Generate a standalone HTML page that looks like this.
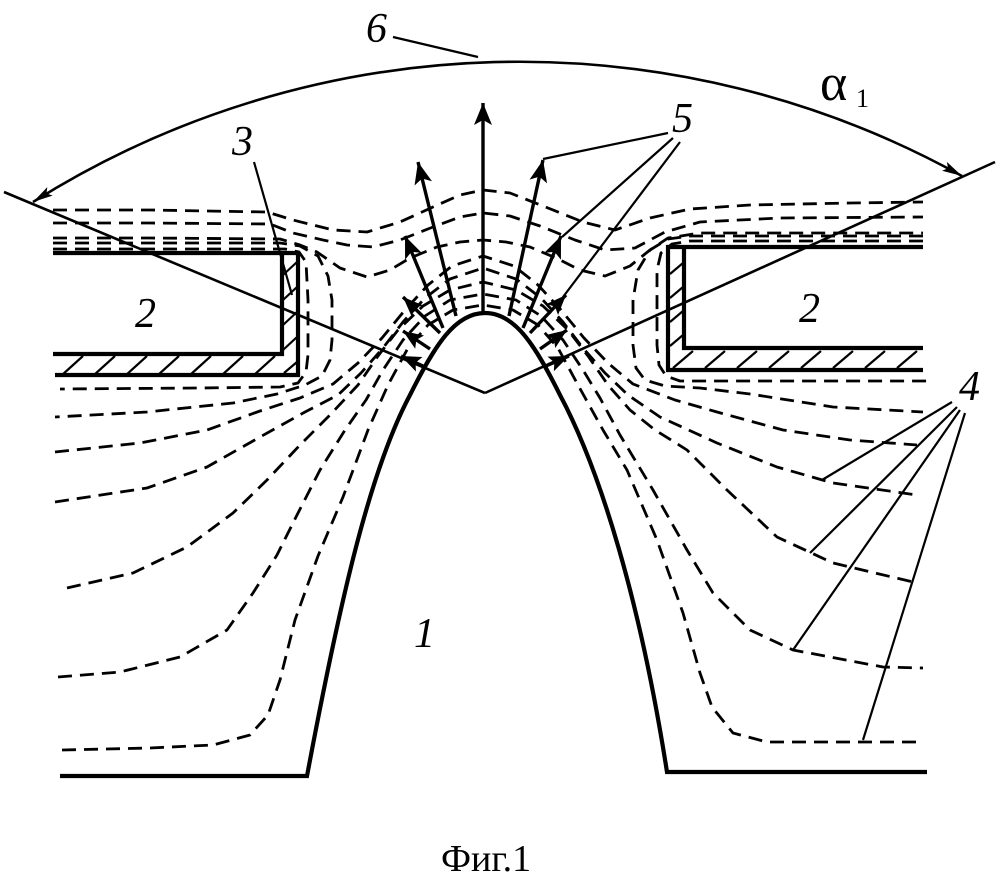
<!DOCTYPE html>
<html>
<head>
<meta charset="utf-8">
<style>
html,body{margin:0;padding:0;background:#fff;}
svg{display:block;}
.d{fill:none;stroke:#000;stroke-width:2.8;stroke-dasharray:14 8;stroke-linejoin:round;}
.s{fill:none;stroke:#000;stroke-linecap:butt;}
.lbl{font-family:"Liberation Serif",serif;font-style:italic;font-size:42px;fill:#000;}
</style>
</head>
<body>
<svg width="1000" height="878" viewBox="0 0 1000 878" xmlns="http://www.w3.org/2000/svg">
<defs>
  <marker id="ah" markerUnits="userSpaceOnUse" markerWidth="24" markerHeight="20" refX="22" refY="9" orient="auto">
    <path d="M0,0 L22,9 L0,18 L5,9 Z" fill="#000"/>
  </marker>
  <marker id="ahs" markerUnits="userSpaceOnUse" markerWidth="22" markerHeight="18" refX="20" refY="8" orient="auto">
    <path d="M0,0 L20,8 L0,16 L4,8 Z" fill="#000"/>
  </marker>
  <marker id="aa" markerUnits="userSpaceOnUse" markerWidth="22" markerHeight="12" refX="20" refY="5" orient="auto-start-reverse">
    <path d="M0,0 L20,5 L0,10 L4,5 Z" fill="#000"/>
  </marker>
</defs>

<!-- arc 6 -->
<path class="s" d="M33,202 A914,914 0 0 1 962,176" stroke-width="2.6" marker-start="url(#aa)" marker-end="url(#aa)"/>
<line class="s" x1="393" y1="37" x2="478" y2="57" stroke-width="2.2"/>

<!-- V angle lines -->
<line class="s" x1="4" y1="192" x2="485" y2="393" stroke-width="2.6"/>
<line class="s" x1="995" y1="162" x2="485" y2="393" stroke-width="2.6"/>

<!-- dashed field lines -->
<polyline class="d" points="53,210 150,210 267,212 293,220 333,230 367,232 400,222 433,207 460,195 483,190 510,193 543,206 583,222 615,230 650,218 690,209 750,205 850,203 923,202"/>
<polyline class="d" points="53,223 150,223 270,224 293,233 323,240 347,245 373,247 400,240 433,227 460,217 483,213 510,216 540,226 575,240 605,250 635,248 665,232 700,222 780,218 923,217"/>
<polyline class="d" points="53,238 150,238 280,239 300,245 317,252 340,268 367,277 390,270 410,258 437,247 460,242 483,240 506,242 530,247 556,258 580,270 605,276 630,266 650,250 668,238 700,233 800,233 923,233"/>
<polyline class="d" points="53,243 280,243 300,246 318,256 328,276 332,300 332,340 330,360 322,376 305,385 277,394 233,403 147,412 55,417"/>
<polyline class="d" points="53,249 285,249 299,252 306,262 308,300 308,355 306,372 298,383 280,387 200,388 60,389"/>
<polyline class="d" points="923,241 690,241 672,244 661,253 657,270 657,345 659,365 666,376 680,381 750,381 927,381"/>
<polyline class="d" points="923,236 690,236 668,239 650,250 638,270 633,300 633,345 636,368 645,380 665,386 700,388 750,394 833,407 923,412"/>
<polyline class="d" points="55,452 140,443 207,430 260,411 300,398 333,384 358,363 382,338 405,310 428,285 452,266 483,256 514,266 538,285 561,310 584,338 608,363 633,384 675,400 717,412 783,430 850,440 917,445"/>
<polyline class="d" points="55,502 147,488 207,467 260,437 305,412 338,395 361,373 383,348 403,322 425,298 450,279 483,268 516,279 541,298 563,322 583,348 605,373 628,395 660,417 717,443 777,467 833,483 917,495"/>
<polyline class="d" points="67,588 133,573 187,547 233,513 267,480 300,445 330,415 358,385 378,356 398,330 423,306 450,290 483,282 516,290 543,306 568,330 588,356 608,385 630,410 655,430 687,450 727,490 777,537 833,563 913,582"/>
<polyline class="d" points="58,677 120,672 180,657 227,630 253,593 277,555 297,515 320,470 345,430 366,400 383,370 403,340 425,316 450,300 483,294 516,300 541,316 563,340 583,370 600,398 620,435 653,490 687,550 713,593 750,630 793,650 883,667 923,668"/>
<polyline class="d" points="62,750 150,748 213,745 250,735 268,715 280,680 295,620 318,556 343,497 368,430 388,385 408,348 428,325 453,310 483,305 513,310 538,325 558,348 578,385 603,430 627,470 657,540 683,613 700,673 712,707 733,733 767,742 923,742"/>

<!-- body 1 -->
<path class="s" d="M60,776 L307,776 C340,600 370,470 410,395 C435,345 455,313 485,313 C515,313 535,345 560,395 C600,470 640,600 667,772 L927,772" stroke-width="4.2" stroke-linejoin="miter"/>

<!-- left block 2 -->
<g stroke="#000" fill="none">
  <polyline points="53,253 298,253 298,376" stroke-width="4.2"/>
  <polyline points="53,354 282,354 282,253" stroke-width="4.2"/>
  <line x1="55" y1="375" x2="300" y2="375" stroke-width="4.2"/>
  <g stroke-width="2.2">
    <line x1="62" y1="375" x2="83" y2="356"/>
    <line x1="94" y1="375" x2="115" y2="356"/>
    <line x1="126" y1="375" x2="147" y2="356"/>
    <line x1="158" y1="375" x2="179" y2="356"/>
    <line x1="190" y1="375" x2="211" y2="356"/>
    <line x1="222" y1="375" x2="243" y2="356"/>
    <line x1="254" y1="375" x2="275" y2="356"/>
    <line x1="284" y1="373" x2="297" y2="362"/>
    <line x1="283" y1="350" x2="297" y2="337"/>
    <line x1="283" y1="325" x2="297" y2="312"/>
    <line x1="283" y1="300" x2="297" y2="287"/>
    <line x1="283" y1="275" x2="297" y2="262"/>
  </g>
</g>

<!-- right block 2 -->
<g stroke="#000" fill="none">
  <polyline points="923,247 668,247 668,371" stroke-width="4.2"/>
  <polyline points="923,348 684,348 684,247" stroke-width="4.2"/>
  <line x1="666" y1="370" x2="923" y2="370" stroke-width="4.2"/>
  <g stroke-width="2.2">
    <line x1="673" y1="368" x2="693" y2="351"/>
    <line x1="705" y1="368" x2="725" y2="351"/>
    <line x1="737" y1="368" x2="757" y2="351"/>
    <line x1="769" y1="368" x2="789" y2="351"/>
    <line x1="801" y1="368" x2="821" y2="351"/>
    <line x1="833" y1="368" x2="853" y2="351"/>
    <line x1="865" y1="368" x2="885" y2="351"/>
    <line x1="897" y1="368" x2="917" y2="351"/>
    <line x1="670" y1="346" x2="683" y2="335"/>
    <line x1="670" y1="322" x2="683" y2="311"/>
    <line x1="670" y1="298" x2="683" y2="287"/>
    <line x1="670" y1="274" x2="683" y2="263"/>
  </g>
</g>

<!-- arrows 5 -->
<g stroke="#000" stroke-width="3.4" fill="none">
  <line x1="483" y1="313" x2="483" y2="103" marker-end="url(#ah)"/>
  <line x1="456" y1="316" x2="418" y2="162" marker-end="url(#ah)"/>
  <line x1="509" y1="316" x2="543" y2="160" marker-end="url(#ah)"/>
  <line x1="443" y1="328" x2="405" y2="236" marker-end="url(#ah)"/>
  <line x1="523" y1="328" x2="561" y2="236" marker-end="url(#ah)"/>
  <line x1="440" y1="333" x2="403" y2="297" marker-end="url(#ahs)"/>
  <line x1="430" y1="349" x2="403" y2="331" marker-end="url(#ahs)"/>
  <line x1="423" y1="366" x2="401" y2="356" marker-end="url(#ahs)"/>
  <line x1="530" y1="333" x2="566" y2="295" marker-end="url(#ahs)"/>
  <line x1="540" y1="349" x2="567" y2="330" marker-end="url(#ahs)"/>
  <line x1="546" y1="366" x2="569" y2="356" marker-end="url(#ahs)"/>
</g>

<!-- leaders -->
<g stroke="#000" stroke-width="2.2" fill="none">
  <line x1="254" y1="162" x2="292" y2="295"/>
  <line x1="668" y1="133" x2="543" y2="159"/>
  <line x1="673" y1="138" x2="562" y2="237"/>
  <line x1="680" y1="142" x2="563" y2="297"/>
  <line x1="952" y1="402" x2="822" y2="480"/>
  <line x1="957" y1="407" x2="810" y2="553"/>
  <line x1="960" y1="410" x2="793" y2="650"/>
  <line x1="965" y1="413" x2="863" y2="740"/>
</g>

<!-- labels -->
<text class="lbl" x="366" y="42">6</text>
<text x="820" y="100" font-family="Liberation Serif, serif" font-size="52" fill="#000">α</text>
<text x="856" y="107" font-family="Liberation Serif, serif" font-size="26" fill="#000">1</text>
<text class="lbl" x="672" y="132">5</text>
<text class="lbl" x="232" y="155">3</text>
<text class="lbl" x="135" y="327">2</text>
<text class="lbl" x="799" y="322">2</text>
<text class="lbl" x="959" y="400">4</text>
<text class="lbl" x="414" y="647">1</text>

<text x="441" y="871" font-family="Liberation Serif, serif" font-size="38" fill="#000">Фиг.1</text>
</svg>
</body>
</html>
